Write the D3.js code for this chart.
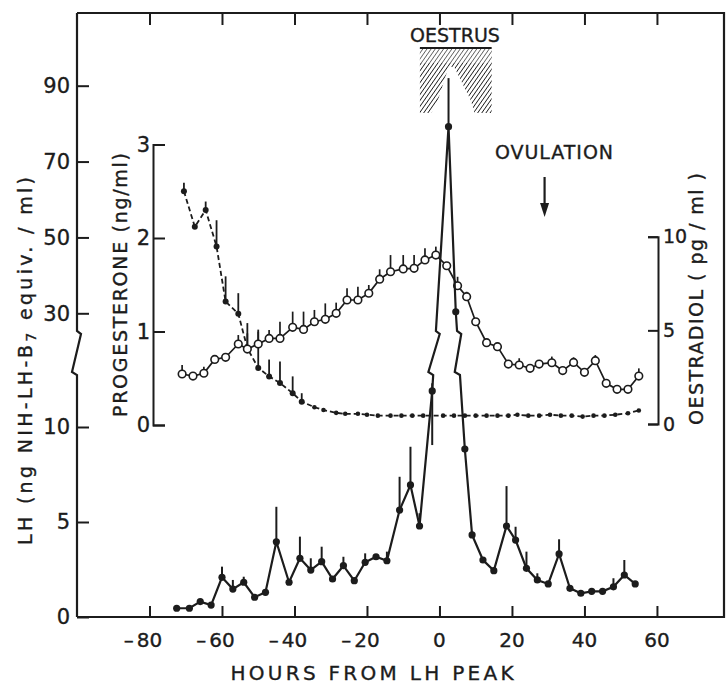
<!DOCTYPE html>
<html>
<head>
<meta charset="utf-8">
<script src="https://cdn.jsdelivr.net/npm/d3@7"></script>
<style>
  body { margin: 0; background: #fff; }
  text { font-family: "DejaVu Sans", "Liberation Sans", sans-serif; fill: #1c1c1c; stroke: #1c1c1c; stroke-width: 0.35px; }
</style>
</head>
<body>
<svg id="chart" width="727" height="685"></svg>
<script>
// ---- data ----
var hourTicks = [-80, -60, -40, -20, 0, 20, 40, 60];
var lhTicks = [0, 5, 10, 30, 50, 70, 90];
var progTicks = [0, 1, 2, 3];
var oestTicks = [0, 5, 10];

// LH (ng NIH-LH-B7 equiv./ml), mean and top of the error bar
var lhHours = [-72.5, -69, -66, -63, -60, -57, -54, -51, -48, -45, -41.5, -38.5, -35.5, -32.5, -29.5, -26.5, -23.5, -20.5, -17.5, -14.5, -11, -8, -5.5, -2,
               2.5, 4.5, 7, 9, 12, 15, 18.5, 21, 24, 27, 30, 33, 36, 39, 42, 45, 48, 51, 54];
var lhValues = [0.46, 0.46, 0.81, 0.63, 2.09, 1.47, 1.83, 1.04, 1.3, 3.96, 1.83, 3.09, 2.47, 2.91, 2.0, 2.7, 1.91, 2.88, 3.17, 2.96, 5.63, 6.95, 4.79, 11.9,
                79.2, 30.4, 8.84, 4.32, 3.0, 2.44, 4.79, 4.05, 2.56, 1.95, 1.74, 3.32, 1.51, 1.25, 1.35, 1.35, 1.59, 2.21, 1.74];
var lhUpper = [null, null, null, null, 2.65, 1.95, 2.12, null, null, 5.8, null, 4.23, 3.09, 3.7, null, 3.17, null, 3.35, null, 3.44, 7.38, 8.96, 5.46, 12.3,
               92, null, null, null, null, null, 6.89, 4.75, 3.44, 2.3, null, 4.09, null, null, null, null, 2.04, 3.0, null];
var lhLower = [null, null, null, null, null, null, null, null, null, null, null, null, null, null, null, null, null, null, null, null, null, null, null, 9.05,
               null, null, null, null, null, null, null, null, null, null, null, null, null, null, null, null, null, null, null];

// Progesterone (ng/ml)
var progHours = [-70.5, -67.5, -64.5, -61.5, -59, -55.5, -53, -50, -47, -44, -40.5, -38, -34.5, -32, -28.5, -26, -22.5, -20, -17, -13.5, -10.5, -7.5, -4.5,
                 1, 4, 7, 10, 13, 16, 19, 21.5, 24.5, 27.5, 30.5, 33.5, 36.5, 39.5, 42.5, 45.5, 48.5, 52, 55];
var progValues = [2.5, 2.12, 2.3, 1.91, 1.32, 1.19, 0.82, 0.61, 0.52, 0.45, 0.34, 0.25, 0.19, 0.16, 0.13, 0.12, 0.12, 0.11, 0.1, 0.1, 0.1, 0.1, 0.1,
                  0.1, 0.1, 0.1, 0.1, 0.1, 0.1, 0.1, 0.11, 0.1, 0.1, 0.11, 0.1, 0.1, 0.09, 0.1, 0.1, 0.11, 0.125, 0.155];
var progUpper = [2.59, null, 2.39, 2.19, 1.59, 1.41, 1.09, 1.02, 0.7, 0.68, 0.52, 0.34, null, null, null, null, null, null, null, null, null, null, null,
                 null, null, null, null, null, null, null, null, null, null, null, null, null, null, null, null, null, null, null];

// Oestradiol (pg/ml)
var oestHours = [-71, -68, -65, -62, -59, -55.5, -53, -50, -47, -44, -40.5, -37.5, -34.5, -31.5, -28.5, -25.5, -22.5, -19.5, -16.5, -13.5, -10, -7, -4, -1,
                 2, 5, 7.5, 10, 13, 16, 19, 22, 25, 27.5, 31, 34, 37, 40, 43, 46, 49, 52, 55];
var oestValues = [2.67, 2.56, 2.71, 3.45, 3.56, 4.27, 4.0, 4.27, 4.57, 4.57, 5.16, 5.05, 5.46, 5.59, 5.91, 6.62, 6.62, 6.98, 7.73, 8.13, 8.28, 8.31, 8.76, 9.02,
                  8.45, 7.38, 6.8, 5.46, 4.34, 4.13, 3.2, 3.15, 2.97, 3.2, 3.27, 2.85, 3.29, 2.76, 3.38, 2.17, 1.85, 1.85, 2.56];
var oestUpper = [3.15, null, 3.06, null, null, 4.75, 4.84, 4.93, 5.02, 5.46, 6.0, 6.0, 6.09, 6.44, 6.48, 7.25, 7.33, 7.42, 8.26, 9.02, 9.02, 9.02, 9.38, 9.47,
                 null, 7.86, 7.06, null, null, null, null, 3.51, null, null, 3.6, null, 3.56, null, 3.68, null, null, null, 2.97];

var oestrusHours = [-5.4, 14.4];
var ovulationHour = 29;

// ---- layout ----
var ink = "#1c1c1c";
var frame = {left: 77, right: 724, top: 13, bottom: 617};
var breakTop = 331, breakBottom = 375;

var svg = d3.select("#chart");

var x = d3.scaleLinear().domain([-100, 78.5]).range([frame.left, frame.right]);
// LH axis is broken between ~12.5 and ~26
var yLH = d3.scaleLinear()
    .domain([0, 10, 12.5, 26, 30, 90])
    .range([617, 427, 379.5, 328.5, 313.3, 85.7]);
var yProg = d3.scaleLinear().domain([0, 3]).range([425, 144.5]);
var yOest = d3.scaleLinear().domain([0, 10]).range([424, 236.7]);

// hatch for the oestrus box
var defs = svg.append("defs");
var pat = defs.append("pattern")
    .attr("id", "hatch")
    .attr("patternUnits", "userSpaceOnUse")
    .attr("width", 3.4).attr("height", 3.4)
    .attr("patternTransform", "rotate(35)");
pat.append("line")
    .attr("x1", 0).attr("y1", 0).attr("x2", 0).attr("y2", 3.4)
    .attr("stroke", ink).attr("stroke-width", 1.7);

function styleAxis(g, size) {
    g.attr("font-family", "DejaVu Sans").attr("font-size", size);
    g.selectAll("line").attr("stroke", ink).attr("stroke-width", 2);
    g.selectAll("path.domain").attr("stroke", ink).attr("stroke-width", 2);
    g.selectAll("text").attr("fill", ink);
}

// frame: top, right, bottom
svg.append("path")
    .attr("d", "M" + frame.left + "," + frame.top + "H" + frame.right + "V" + frame.bottom + "H" + frame.left)
    .attr("fill", "none").attr("stroke", ink).attr("stroke-width", 2.2);

// bottom ticks
var xAxisBottom = svg.append("g")
    .attr("transform", "translate(0," + frame.bottom + ")")
    .call(d3.axisBottom(x).tickValues(hourTicks).tickSize(-11).tickFormat(""));
xAxisBottom.select(".domain").remove();
styleAxis(xAxisBottom, 20);

// top ticks
var xAxisTop = svg.append("g")
    .attr("transform", "translate(0," + frame.top + ")")
    .call(d3.axisTop(x).tickValues(hourTicks).tickSize(-12).tickFormat(""));
xAxisTop.select(".domain").remove();
styleAxis(xAxisTop, 20);

// hour labels: digits centred on the tick, minus sign hanging left
var hourLabels = svg.append("g").attr("font-size", 20);
hourTicks.forEach(function(h) {
    var t = hourLabels.append("text")
        .attr("x", x(h)).attr("y", 647)
        .attr("text-anchor", "middle")
        .text(Math.abs(h));
    if (h < 0) {
        var w = t.node().getComputedTextLength();
        hourLabels.append("text")
            .attr("x", x(h) - w / 2 - 3).attr("y", 647)
            .attr("text-anchor", "end")
            .text("\u2013");
    }
});

svg.append("text")
    .attr("x", 372).attr("y", 680)
    .attr("text-anchor", "middle")
    .attr("font-size", 20)
    .attr("textLength", 283).attr("lengthAdjust", "spacing")
    .text("HOURS FROM LH PEAK");

// LH axis (left frame) with the break zigzag
var lhAxis = svg.append("g")
    .attr("transform", "translate(" + frame.left + ",0)")
    .call(d3.axisLeft(yLH).tickValues(lhTicks).tickSize(-12).tickPadding(7));
lhAxis.select(".domain").remove();
styleAxis(lhAxis, 21);
lhAxis.append("path")
    .attr("d", d3.line()([[0, frame.top], [0, breakTop], [4, breakTop + 3], [-5, breakBottom - 3], [0, breakBottom], [0, frame.bottom]]))
    .attr("fill", "none").attr("stroke", ink).attr("stroke-width", 2.2);

var lhLabel = svg.append("text")
    .attr("transform", "translate(32,361) rotate(-90)")
    .attr("text-anchor", "middle")
    .attr("font-size", 19)
    .attr("textLength", 368).attr("lengthAdjust", "spacing");
lhLabel.append("tspan").text("LH (ng NIH-LH-B");
lhLabel.append("tspan").attr("dy", 4).attr("font-size", 14).text("7");
lhLabel.append("tspan").attr("dy", -4).text(" equiv. / ml)");

// progesterone axis
var progAxis = svg.append("g")
    .attr("transform", "translate(153,0)")
    .call(d3.axisLeft(yProg).tickValues(progTicks).tickFormat(d3.format("d")).tickSize(-12).tickPadding(3));
styleAxis(progAxis, 21);

svg.append("text")
    .attr("transform", "translate(127,285) rotate(-90)")
    .attr("text-anchor", "middle")
    .attr("font-size", 19)
    .attr("textLength", 264).attr("lengthAdjust", "spacing")
    .text("PROGESTERONE (ng/ml)");

// oestradiol axis
var oestAxis = svg.append("g")
    .attr("transform", "translate(658,0)")
    .call(d3.axisRight(yOest).tickValues(oestTicks).tickSize(-10).tickPadding(5));
styleAxis(oestAxis, 19);

svg.append("text")
    .attr("transform", "translate(703,299) rotate(-90)")
    .attr("text-anchor", "middle")
    .attr("font-size", 19)
    .attr("textLength", 252).attr("lengthAdjust", "spacing")
    .text("OESTRADIOL ( pg / ml )");

// oestrus box
var ox0 = x(oestrusHours[0]), ox1 = x(oestrusHours[1]);
var oestrus = svg.append("g");
oestrus.append("rect")
    .attr("x", ox0).attr("y", 48)
    .attr("width", ox1 - ox0).attr("height", 65)
    .attr("fill", "url(#hatch)");
oestrus.append("rect")
    .attr("x", ox0).attr("y", 49)
    .attr("width", ox1 - ox0).attr("height", 14)
    .attr("fill", "#fff").attr("opacity", 0.3);
oestrus.append("path")
    .attr("d", d3.line()([[x(-2.4), 114], [x(-0.4), 100], [x(2.6), 66], [x(4.2), 68], [x(8.6), 100], [x(9.8), 114]]))
    .attr("fill", "#fff");
oestrus.append("line")
    .attr("x1", ox0).attr("x2", ox1).attr("y1", 48).attr("y2", 48)
    .attr("stroke", ink).attr("stroke-width", 2);
svg.append("text")
    .attr("x", 455).attr("y", 42)
    .attr("text-anchor", "middle")
    .attr("font-size", 19)
    .text("OESTRUS");

// ovulation arrow
var ax = x(ovulationHour);
svg.append("text")
    .attr("x", 554).attr("y", 159)
    .attr("text-anchor", "middle")
    .attr("font-size", 19)
    .attr("textLength", 118).attr("lengthAdjust", "spacing")
    .text("OVULATION");
svg.append("line")
    .attr("x1", ax).attr("x2", ax).attr("y1", 177).attr("y2", 206)
    .attr("stroke", ink).attr("stroke-width", 2.2);
svg.append("path")
    .attr("d", d3.line()([[ax - 4.5, 203], [ax + 4.5, 203], [ax, 217]]))
    .attr("fill", ink);

// helpers
function errorBars(g, hours, vals, upper, lower, yScale, width) {
    var idx = d3.range(hours.length).filter(function(i) {
        return upper[i] != null || (lower && lower[i] != null);
    });
    g.selectAll("line.err").data(idx).join("line")
        .attr("class", "err")
        .attr("x1", function(i) { return x(hours[i]); })
        .attr("x2", function(i) { return x(hours[i]); })
        .attr("y1", function(i) { return yScale(lower && lower[i] != null ? lower[i] : vals[i]); })
        .attr("y2", function(i) { return yScale(upper[i] != null ? upper[i] : vals[i]); })
        .attr("stroke", ink).attr("stroke-width", width);
}

// insert the break jog where a segment crosses the axis break
function withBreak(pts) {
    var jog = [[breakTop, 0], [breakTop + 3, 4], [breakBottom - 3, -5], [breakBottom, 0]];
    var out = [pts[0]];
    for (var i = 1; i < pts.length; i++) {
        var a = pts[i - 1], b = pts[i];
        var hi = Math.min(a[1], b[1]), lo = Math.max(a[1], b[1]);
        if (hi < breakTop && lo > breakBottom) {
            var at = function(y) { return a[0] + (b[0] - a[0]) * (y - a[1]) / (b[1] - a[1]); };
            var seq = a[1] > b[1] ? jog.slice().reverse() : jog;
            seq.forEach(function(j) { out.push([at(j[0]) + j[1], j[0]]); });
        }
        out.push(b);
    }
    return out;
}

// progesterone: dashed line, small filled dots
var prog = svg.append("g");
prog.append("path")
    .attr("d", d3.line()(progHours.map(function(h, i) { return [x(h), yProg(progValues[i])]; })))
    .attr("fill", "none").attr("stroke", ink)
    .attr("stroke-width", 1.8).attr("stroke-dasharray", "5,3");
errorBars(prog, progHours, progValues, progUpper, null, yProg, 1.8);
prog.selectAll("circle").data(progHours).join("circle")
    .attr("cx", function(h) { return x(h); })
    .attr("cy", function(h, i) { return yProg(progValues[i]); })
    .attr("r", function(h, i) { return i < 12 ? 3 : 2.3; })
    .attr("fill", ink);

// oestradiol: solid line, open circles
var oest = svg.append("g");
oest.append("path")
    .attr("d", d3.line()(oestHours.map(function(h, i) { return [x(h), yOest(oestValues[i])]; })))
    .attr("fill", "none").attr("stroke", ink).attr("stroke-width", 1.7);
errorBars(oest, oestHours, oestValues, oestUpper, null, yOest, 1.7);
oest.selectAll("circle").data(oestHours).join("circle")
    .attr("cx", function(h) { return x(h); })
    .attr("cy", function(h, i) { return yOest(oestValues[i]); })
    .attr("r", 3.8)
    .attr("fill", "#fff").attr("stroke", ink).attr("stroke-width", 1.6);

// LH: solid line, filled dots
var lh = svg.append("g");
var lhPts = lhHours.map(function(h, i) { return [x(h), yLH(lhValues[i])]; });
lh.append("path")
    .attr("d", d3.line()(withBreak(lhPts)))
    .attr("fill", "none").attr("stroke", ink).attr("stroke-width", 2.2);
errorBars(lh, lhHours, lhValues, lhUpper, lhLower, yLH, 2);
lh.selectAll("circle").data(lhPts).join("circle")
    .attr("cx", function(p) { return p[0]; })
    .attr("cy", function(p) { return p[1]; })
    .attr("r", 3.6)
    .attr("fill", ink);
</script>
</body>
</html>
